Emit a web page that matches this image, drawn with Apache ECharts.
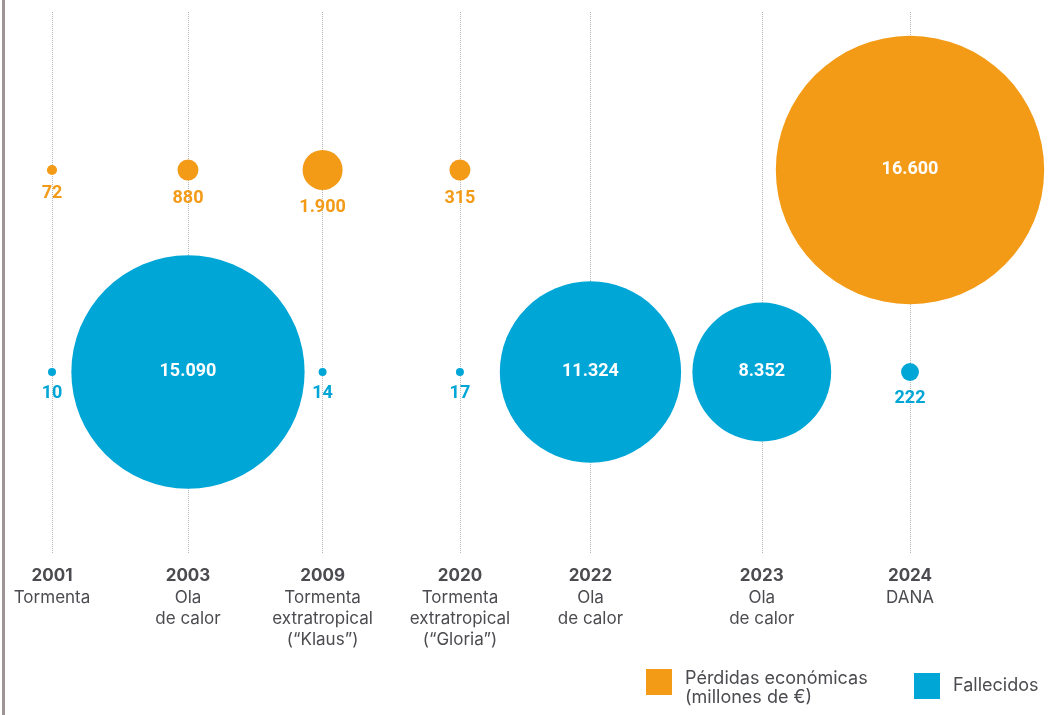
<!DOCTYPE html>
<html>
<head>
<meta charset="utf-8">
<script src="https://cdn.jsdelivr.net/npm/echarts@6/dist/echarts.min.js"></script>
<style>
  html, body { margin: 0; padding: 0; background: #fff; }
  #main { width: 1057px; height: 715px; }
</style>
</head>
<body>
<div id="main"></div>
<script>
// datos
var anios = ['2001', '2003', '2009', '2020', '2022', '2023', '2024'];
var eventos = ['Tormenta', 'Ola\nde calor', 'Tormenta\nextratropical\n(“Klaus”)', 'Tormenta\nextratropical\n(“Gloria”)', 'Ola\nde calor', 'Ola\nde calor', 'DANA'];
var perdidas = [72, 880, 1900, 315, null, null, 16600];   // millones de €
var fallecidos = [10, 15090, 14, 17, 11324, 8352, 222];

// posicion de cada columna en el eje x (no son equidistantes)
var columnas = [0, 1, 1.99, 3, 3.96, 5.22, 6.31];

var naranja = '#F39B17';
var azul = '#00A6D6';
var gris = '#4b4b50';

function miles(v) {
    return String(v).replace(/\B(?=(\d{3})+(?!\d))/g, '.');
}

// tamaño de la burbuja
function tam(v, k) {
    return Math.max(8, k * Math.pow(v, 0.878), Math.min(21, 1.2 * Math.sqrt(v)));
}

function datos(valores, fila, k, color) {
    var out = [];
    valores.forEach(function (v, i) {
        if (v == null) return;
        var grande = tam(v, k) > 60;
        out.push({
            value: [columnas[i], fila, v],
            label: grande ? {
                position: 'inside', color: '#fff'
            } : {
                position: 'bottom', color: color, distance: 9
            }
        });
    });
    return out;
}

var chart = echarts.init(document.getElementById('main'));

var option = {
    animation: false,
    textStyle: { fontFamily: 'Inter' },
    grid: { left: 52, right: 147, top: 12, bottom: 162 },
    xAxis: {
        type: 'value',
        min: columnas[0],
        max: columnas[columnas.length - 1],
        splitLine: { show: false },
        axisLine: { show: false },
        axisTick: { show: false },
        axisLabel: {
            customValues: columnas,
            margin: 12,
            formatter: function (val) {
                var i = 0, best = 1e9;
                columnas.forEach(function (c, j) {
                    if (Math.abs(c - val) < best) { best = Math.abs(c - val); i = j; }
                });
                return '{y|' + anios[i] + '}\n{d|' + eventos[i] + '}';
            },
            rich: {
                y: { fontFamily: 'Inter', fontWeight: 'bold', fontSize: 17, lineHeight: 22, color: gris, align: 'center' },
                d: { fontFamily: 'Inter', fontSize: 17, lineHeight: 21, color: gris, align: 'center' }
            }
        }
    },
    yAxis: {
        type: 'value',
        min: -0.896,
        max: 1.782,
        show: false
    },
    legend: [{
        left: 641, top: 653,
        data: ['Pérdidas económicas'],
        icon: 'rect', itemWidth: 26, itemHeight: 26,
        formatter: function () { return '{s| }\n{a|Pérdidas económicas}\n{a|(millones de €)}'; },
        textStyle: {
            fontFamily: 'Inter', fontSize: 18, color: gris, padding: [0, 0, 0, 8],
            rich: {
                s: { fontSize: 10, lineHeight: 13 },
                a: { fontFamily: 'Inter', fontSize: 18, lineHeight: 19, color: gris }
            }
        }
    }, {
        left: 909, top: 668,
        data: ['Fallecidos'],
        icon: 'rect', itemWidth: 26, itemHeight: 26,
        textStyle: { fontFamily: 'Inter', fontSize: 18, color: gris, padding: [0, 0, 0, 8] }
    }],
    graphic: [{
        type: 'rect',
        shape: { x: 2, y: 0, width: 3, height: 715 },
        style: { fill: '#9d9595' }
    }],
    series: [
        {
            // lineas punteadas de cada columna
            type: 'line',
            data: [],
            z: 0,
            silent: true,
            markLine: {
                z: 0,
                symbol: 'none',
                silent: true,
                label: { show: false },
                lineStyle: { type: 'dotted', color: '#b5b5b5', width: 1 },
                data: columnas.map(function (c) { return { xAxis: c }; })
            }
        },
        {
            name: 'Pérdidas económicas',
            type: 'scatter',
            z: 3,
            itemStyle: { color: naranja, opacity: 1 },
            symbolSize: function (d) { return tam(d[2], 0.0529); },
            label: {
                show: true,
                fontFamily: 'Roboto', fontWeight: 'bold', fontSize: 18,
                formatter: function (p) { return miles(p.value[2]); }
            },
            data: datos(perdidas, 1, 0.0529, naranja)
        },
        {
            name: 'Fallecidos',
            type: 'scatter',
            z: 3,
            itemStyle: { color: azul, opacity: 1 },
            symbolSize: function (d) { return tam(d[2], 0.05); },
            label: {
                show: true,
                fontFamily: 'Roboto', fontWeight: 'bold', fontSize: 18,
                formatter: function (p) { return miles(p.value[2]); }
            },
            data: datos(fallecidos, 0, 0.05, azul)
        }
    ]
};

chart.setOption(option);
</script>
</body>
</html>
